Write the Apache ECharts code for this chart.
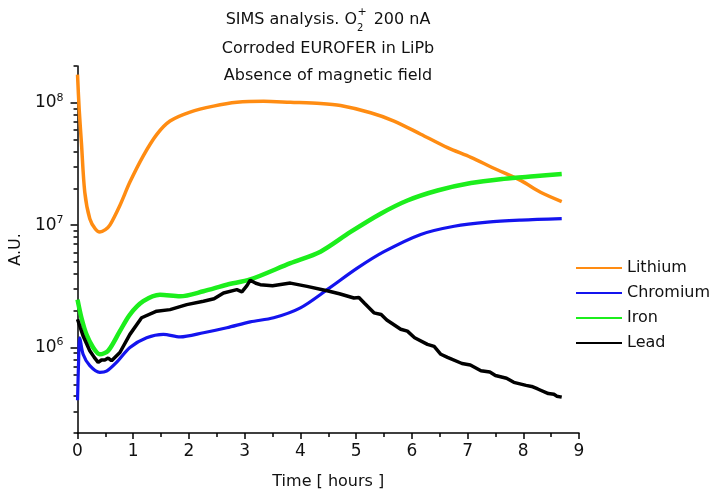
<!DOCTYPE html>
<html><head><meta charset="utf-8">
<script src="https://cdn.jsdelivr.net/npm/echarts@6/dist/echarts.min.js"></script>
<style>html,body{margin:0;padding:0;background:#fff}#c{width:721px;height:495px}</style>
</head><body><div id="c"></div>
<script>
// ---- data ----
const seriesNames = ['Lithium', 'Chromium', 'Iron', 'Lead'];

const liTime = [0.0, 0.03, 0.07, 0.13, 0.22, 0.32, 0.4, 0.5, 0.58, 0.76, 0.94, 1.18, 1.42, 1.66, 2.02, 2.44, 2.86, 3.34, 3.82, 4.36, 4.72, 5.26, 5.68, 6.16, 6.64, 7.06, 7.47, 7.96, 8.31, 8.69];
const liVal  = [1.7e8, 8.8e7, 4.7e7, 1.86e7, 1.13e7, 9.3e6, 8.8e6, 9.2e6, 1.0e7, 1.45e7, 2.25e7, 3.69e7, 5.5e7, 7.1e7, 8.4e7, 9.4e7, 1.01e8, 1.03e8, 1.01e8, 9.87e7, 9.5e7, 8.3e7, 7.1e7, 5.54e7, 4.3e7, 3.58e7, 2.92e7, 2.31e7, 1.86e7, 1.56e7];

const crTime = [0.0, 0.02, 0.04, 0.10, 0.22, 0.40, 0.52, 0.70, 0.94, 1.24, 1.54, 1.84, 2.26, 2.68, 3.10, 3.52, 4.0, 4.48, 5.02, 5.50, 6.16, 6.76, 7.36, 7.96, 8.69];
const crVal  = [3.7e5, 8.0e5, 1.2e6, 8.8e5, 7.1e5, 6.26e5, 6.4e5, 7.55e5, 1.0e6, 1.2e6, 1.28e6, 1.22e6, 1.32e6, 1.45e6, 1.62e6, 1.75e6, 2.11e6, 2.97e6, 4.45e6, 6.07e6, 8.4e6, 9.8e6, 1.06e7, 1.1e7, 1.13e7];

const feTime = [0.0, 0.07, 0.16, 0.28, 0.40, 0.55, 0.76, 0.94, 1.18, 1.48, 1.84, 2.26, 2.68, 3.10, 3.82, 4.36, 4.90, 5.44, 5.92, 6.46, 7.06, 7.65, 8.19, 8.69];
const feVal  = [2.46e6, 1.75e6, 1.28e6, 1.0e6, 8.8e5, 9.4e5, 1.36e6, 1.86e6, 2.39e6, 2.7e6, 2.62e6, 2.88e6, 3.26e6, 3.6e6, 4.89e6, 6.07e6, 8.8e6, 1.24e7, 1.59e7, 1.92e7, 2.21e7, 2.39e7, 2.51e7, 2.62e7];

const pbTime = [0.0, 0.05, 0.10, 0.22, 0.30, 0.37, 0.43, 0.49, 0.55, 0.61, 0.76, 0.94, 1.15, 1.42, 1.66, 1.96, 2.26, 2.45, 2.62, 2.86, 2.95, 3.04, 3.10, 3.20, 3.28, 3.50, 3.82, 4.12, 4.48, 4.70, 4.96, 5.05, 5.15, 5.32, 5.45, 5.55, 5.80, 5.92, 6.05, 6.28, 6.40, 6.52, 6.64, 6.90, 7.05, 7.24, 7.40, 7.50, 7.70, 7.83, 8.05, 8.15, 8.26, 8.45, 8.55, 8.60, 8.69];
const pbVal  = [1.7e6, 1.45e6, 1.24e6, 9.4e5, 8.3e5, 7.55e5, 7.9e5, 7.9e5, 8.2e5, 7.8e5, 9.1e5, 1.28e6, 1.75e6, 1.98e6, 2.04e6, 2.24e6, 2.39e6, 2.5e6, 2.79e6, 2.97e6, 2.85e6, 3.2e6, 3.55e6, 3.35e6, 3.26e6, 3.2e6, 3.36e6, 3.16e6, 2.91e6, 2.75e6, 2.54e6, 2.56e6, 2.3e6, 1.92e6, 1.86e6, 1.68e6, 1.41e6, 1.36e6, 1.2e6, 1.06e6, 1.02e6, 8.8e5, 8.3e5, 7.4e5, 7.2e5, 6.46e5, 6.3e5, 5.9e5, 5.6e5, 5.19e5, 4.9e5, 4.8e5, 4.58e5, 4.2e5, 4.15e5, 4.0e5, 3.93e5];

const xTickLabels = [0, 1, 2, 3, 4, 5, 6, 7, 8, 9];
const yMajorTicks = [1e6, 1e7, 1e8];
const yMinorTicks = [2e5, 3e5, 4e5, 5e5, 6e5, 7e5, 8e5, 9e5,
                     2e6, 3e6, 4e6, 5e6, 6e6, 7e6, 8e6, 9e6,
                     2e7, 3e7, 4e7, 5e7, 6e7, 7e7, 8e7, 9e7, 2e8];
const titleLine1 = ['SIMS analysis. O', '2', '+', '\u00a0 200 nA'];
const titleLine2 = 'Corroded EUROFER in LiPb';
const titleLine3 = 'Absence of magnetic field';
const xName = 'Time [ hours ]';
const yName = 'A.U.';

// ---- styling ----
const FONT = 'DejaVu Sans';
const colors = ['#ff8c12', '#1414ee', '#1cee1c', '#000000'];
const widths = [3.5, 3.2, 4.5, 3.5];
const smooths = [0.3, 0.3, 0.3, false];

function pairs(t, v) { return t.map((x, i) => [x, v[i]]); }
const datasets = [pairs(liTime, liVal), pairs(crTime, crVal), pairs(feTime, feVal), pairs(pbTime, pbVal)];

const ctx = document.createElement('canvas').getContext('2d');
function tw(s, size) { ctx.font = size + 'px "' + FONT + '"'; return ctx.measureText(s).width; }
const TCX = 328, TFS = 16, SFS = 10;
const wA = tw(titleLine1[0], TFS), wB = tw(titleLine1[1], SFS), wD = tw(titleLine1[3], TFS);
const x1 = TCX - (wA + wB + wD) / 2;

function supLabel(v) {
  const e = Math.round(Math.log10(v));
  if (Math.abs(v - Math.pow(10, e)) / v > 1e-6) return '';
  return '10{sup|' + e + '}';
}

const chart = echarts.init(document.getElementById('c'), null, { renderer: 'canvas' });
const axisColor = '#000';
chart.setOption({
  animation: false,
  backgroundColor: '#fff',
  textStyle: { fontFamily: FONT },
  grid: { left: 77, right: 142, top: 66, bottom: 59, containLabel: false },
  graphic: [
    { type: 'text', x: x1, y: 20, style: { text: titleLine1[0] + '{sub|' + titleLine1[1] + '}' + titleLine1[3],
      fontFamily: FONT, fontSize: TFS, fill: '#111', align: 'left', verticalAlign: 'middle', lineHeight: 26,
      rich: { sub: { fontFamily: FONT, fontSize: SFS, verticalAlign: 'bottom', fill: '#111', lineHeight: 26 } } } },
    { type: 'text', x: x1 + wA + 0.5, y: 12, style: { text: titleLine1[2], fontFamily: FONT, fontSize: 11, fill: '#111', align: 'left', verticalAlign: 'middle' } },
    { type: 'text', x: TCX, y: 49, style: { text: titleLine2, fontFamily: FONT, fontSize: TFS, fill: '#111', align: 'center', verticalAlign: 'middle' } },
    { type: 'text', x: TCX, y: 76, style: { text: titleLine3, fontFamily: FONT, fontSize: TFS, fill: '#111', align: 'center', verticalAlign: 'middle' } }
  ],
  legend: {
    orient: 'vertical', left: 575, top: 260, padding: 0, itemWidth: 46, itemHeight: 14, itemGap: 9,
    data: seriesNames,
    itemStyle: { opacity: 0, borderWidth: 0 },
    textStyle: { fontFamily: FONT, fontSize: 16, color: '#111', padding: [0, 0, 0, 0] }
  },
  xAxis: {
    type: 'value', min: 0, max: 9, interval: 1,
    name: xName, nameLocation: 'middle', nameGap: 41,
    nameTextStyle: { fontFamily: FONT, fontSize: 16, color: '#111' },
    axisLine: { show: true, onZero: false, lineStyle: { color: axisColor, width: 1.5 } },
    axisTick: { show: true, length: 6, lineStyle: { color: axisColor, width: 1.5 } },
    minorTick: { show: true, splitNumber: 2, length: 4, lineStyle: { color: axisColor, width: 1.5 } },
    axisLabel: { fontFamily: FONT, fontSize: 17, color: '#111', margin: 10,
      formatter: v => (xTickLabels.indexOf(v) >= 0 ? String(v) : '') },
    splitLine: { show: false }
  },
  yAxis: [
    {
      type: 'log', logBase: 10, min: 2e5, max: 2e8, position: 'left',
      name: yName, nameLocation: 'middle', nameGap: 44,
      nameTextStyle: { fontFamily: FONT, fontSize: 16, color: '#111' },
      axisLine: { show: true, lineStyle: { color: axisColor, width: 1.5 } },
      axisTick: { show: true, length: 7, customValues: yMajorTicks, lineStyle: { color: axisColor, width: 1.5 } },
      axisLabel: { customValues: yMajorTicks, formatter: supLabel, margin: 14,
        fontFamily: FONT, fontSize: 17, color: '#111',
        rich: { sup: { fontFamily: FONT, fontSize: 11, color: '#111', verticalAlign: 'top', padding: [0, 0, 10, 0] } } },
      splitLine: { show: false }, minorTick: { show: false }
    },
    {
      type: 'log', logBase: 10, min: 2e5, max: 2e8, position: 'left', offset: 0,
      axisLine: { show: false },
      axisTick: { show: true, length: 4, customValues: yMinorTicks, lineStyle: { color: axisColor, width: 1.5 } },
      axisLabel: { show: false }, splitLine: { show: false }
    }
  ],
  series: seriesNames.map((n, i) => ({
    name: n, type: 'line', data: datasets[i], yAxisIndex: 0,
    symbol: 'none', showSymbol: false, smooth: smooths[i], clip: true,
    lineStyle: { color: colors[i], width: widths[i] }, itemStyle: { color: colors[i] }
  }))
});
</script></body></html>
